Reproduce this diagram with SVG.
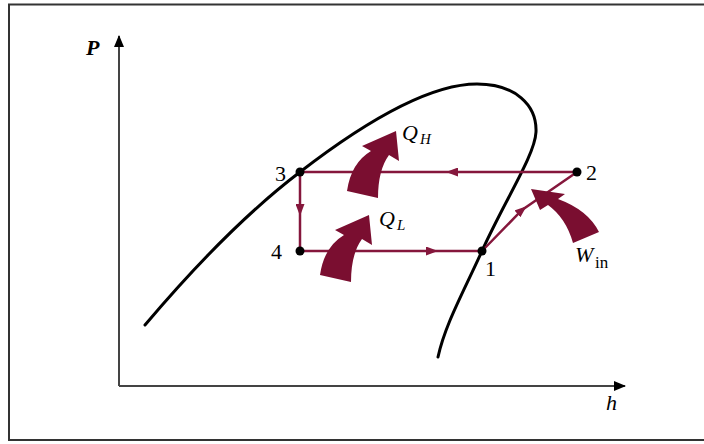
<svg xmlns="http://www.w3.org/2000/svg" width="704" height="444" viewBox="0 0 704 444">
<style>
.frame{fill:#fff;stroke:#333;stroke-width:2}
.axis{fill:none;stroke:#444;stroke-width:2}
.dome{fill:none;stroke:#000;stroke-width:3;stroke-linecap:round}
.cyc{fill:none;stroke:#85173c;stroke-width:2.5;marker-mid:url(#ah)}
.heat{fill:#7a0e30}
.dot{fill:#000}
.num{font-family:"Liberation Serif",serif;font-size:22px;fill:#000}
.sym{font-family:"Liberation Serif",serif;font-style:italic;font-size:22px;fill:#000}
.sub{font-family:"Liberation Serif",serif;font-style:italic;font-size:15px;fill:#000}
.subr{font-family:"Liberation Serif",serif;font-size:17px;fill:#000}
</style>
<defs>
<marker id="ah" viewBox="0 0 12 9" refX="6" refY="4.5" markerWidth="12" markerHeight="9" markerUnits="userSpaceOnUse" orient="auto">
<path d="M0,0 L12,4.5 L0,9 Z" fill="#85173c"/>
</marker>
<marker id="ax" viewBox="0 0 12 10" refX="11" refY="5" markerWidth="12" markerHeight="10" markerUnits="userSpaceOnUse" orient="auto">
<path d="M0,0 L12,5 L0,10 Z" fill="#000"/>
</marker>
</defs>
<rect class="frame" x="9" y="4.5" width="710" height="435.5"/>
<g id="axes">
<path class="axis" d="M119,386 L119,36" marker-end="url(#ax)"/>
<path class="axis" d="M119,386 L625,386" marker-end="url(#ax)"/>
<text class="sym" x="86" y="55" font-weight="bold">P</text>
<text class="sym" x="606" y="410" font-size="23">h</text>
</g>
<g id="dome">
<path class="dome" d="M145,325 C200,260 250,210 300,172 C370,118 432,84 477,84 C515,84 537,105 536,132 C535,155 505,200 482,251 C462,295 445,325 438,357"/>
</g>
<g id="connectors">
<path id="c32" class="cyc" d="M577,172 L452,172 L300,172"/>
<path id="c34" class="cyc" d="M300,172 L300,210 L300,251"/>
<path id="c41" class="cyc" d="M300,251 L432,251 L482,251"/>
<path id="c12" class="cyc" d="M482,251 L522,210 L577,172"/>
</g>
<g id="node1"><circle class="dot" cx="482" cy="251" r="4.5"/><text class="num" x="485" y="276">1</text></g>
<g id="node2"><circle class="dot" cx="577" cy="172" r="4.5"/><text class="num" x="586" y="180">2</text></g>
<g id="node3"><circle class="dot" cx="300" cy="172" r="4.5"/><text class="num" x="275" y="181">3</text></g>
<g id="node4"><circle class="dot" cx="300" cy="251" r="4.5"/><text class="num" x="271" y="259">4</text></g>
<g id="QH">
<path class="heat" d="M347,191 Q351,163 371,151 L362,146 L396,131 L399,161 L389,155 Q378,170 378,198 Z"/>
<text class="sym" x="402" y="140">Q</text><text class="sub" x="420" y="144">H</text>
</g>
<g id="QL">
<path class="heat" transform="translate(-27,84)" d="M347,191 Q351,163 371,151 L362,146 L396,131 L399,161 L389,155 Q378,170 378,198 Z"/>
<text class="sym" x="379" y="226">Q</text><text class="sub" x="397" y="230">L</text>
</g>
<g id="Win">
<path class="heat" d="M573,243 Q566,218 548,205 L540,210 L531,189 L565,194 L558,199 Q588,210 599,232 Z"/>
<text class="sym" x="575" y="262">W</text><text class="subr" x="595" y="268">in</text>
</g>
</svg>
